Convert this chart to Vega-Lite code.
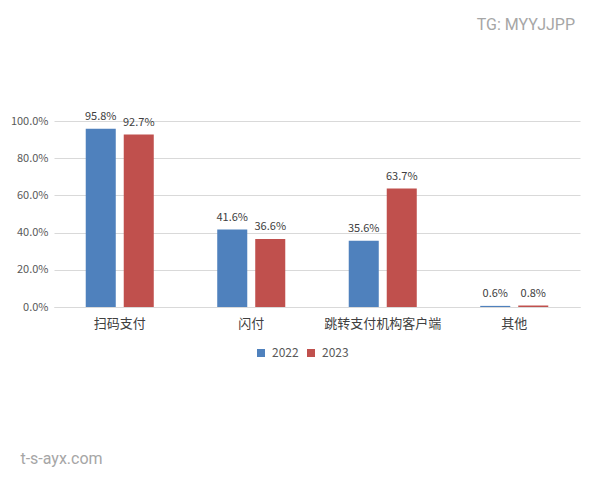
{
  "$schema": "https://vega.github.io/schema/vega-lite/v6.json",
  "background": "white",
  "padding": {"left": 10, "top": 16, "right": 12, "bottom": 10},
  "title": {"text": "t-s-ayx.com", "orient": "bottom", "anchor": "start", "frame": "bounds", "fontSize": 16, "fontWeight": "normal", "color": "#a6a6a6", "font": "Roboto", "offset": 92, "dx": 10},
  "config": {
    "view": {"stroke": null},
    "font": "Noto Sans CJK SC"
  },
  "vconcat": [
    {
      "width": 526,
      "height": 186,
      "title": {"text": "TG: MYYJJPP", "anchor": "end", "orient": "top", "frame": "bounds", "fontSize": 16, "fontWeight": "normal", "color": "#a6a6a6", "font": "Roboto", "offset": 78, "dx": -5},
      "data": {
        "values": [
          {"category": "扫码支付", "year": "2022", "value": 0.958},
          {"category": "扫码支付", "year": "2023", "value": 0.927},
          {"category": "闪付", "year": "2022", "value": 0.416},
          {"category": "闪付", "year": "2023", "value": 0.366},
          {"category": "跳转支付机构客户端", "year": "2022", "value": 0.356},
          {"category": "跳转支付机构客户端", "year": "2023", "value": 0.637},
          {"category": "其他", "year": "2022", "value": 0.006},
          {"category": "其他", "year": "2023", "value": 0.008}
        ]
      },
      "encoding": {
        "x": {
          "field": "category", "type": "nominal", "sort": null,
          "scale": {"paddingInner": 0, "paddingOuter": 0},
          "axis": {"title": null, "labelAngle": 0, "labelFontSize": 13, "labelColor": "#404040", "labelPadding": 10, "ticks": false, "domainColor": "#d9d9d9", "labelFont": "Noto Sans CJK SC"}
        },
        "xOffset": {"field": "year", "type": "nominal", "scale": {"paddingInner": 0.21, "paddingOuter": 0.835}},
        "y": {
          "field": "value", "type": "quantitative",
          "scale": {"domain": [0, 1]},
          "axis": {"title": null, "format": ".1%", "values": [0, 0.2, 0.4, 0.6, 0.8, 1.0], "labelFontSize": 11, "labelColor": "#595959", "labelPadding": 6, "ticks": false, "domain": false, "gridColor": "#d9d9d9", "labelFont": "Noto Sans CJK SC"}
        }
      },
      "layer": [
        {
          "mark": {"type": "bar"},
          "encoding": {
            "color": {
              "field": "year", "type": "nominal",
              "scale": {"domain": ["2022", "2023"], "range": ["#4F81BD", "#C0504D"]},
              "legend": {"title": null, "orient": "none", "legendX": 201, "legendY": 226, "direction": "horizontal", "symbolType": "square", "symbolSize": 64, "symbolStrokeWidth": 0, "labelFontSize": 12, "labelColor": "#595959", "labelOffset": 5, "columnPadding": 6, "labelFont": "Noto Sans CJK SC"}
            }
          }
        },
        {
          "mark": {"type": "text", "dy": -7, "fontSize": 11, "color": "#404040", "baseline": "bottom"},
          "encoding": {
            "text": {"field": "value", "type": "quantitative", "format": ".1%"}
          }
        }
      ]
    }
  ]
}
